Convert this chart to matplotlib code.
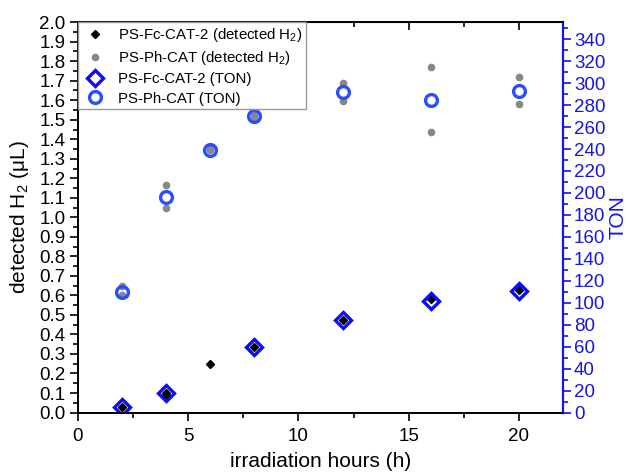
import matplotlib
matplotlib.use("Agg")
import matplotlib.pyplot as plt
from matplotlib.ticker import MultipleLocator
from matplotlib.lines import Line2D

plt.rcParams['font.family'] = ['Liberation Sans', 'DejaVu Sans']
plt.rcParams['mathtext.fontset'] = 'custom'
plt.rcParams['mathtext.rm'] = 'Liberation Sans'
plt.rcParams['mathtext.it'] = 'Liberation Sans:italic'

# detected H2 (uL), replicate runs
fc_h2_hours = [2, 4, 4, 6, 8, 12, 16, 20]
fc_h2 = [0.028, 0.10, 0.09, 0.25, 0.335, 0.475, 0.58, 0.63]
ph_h2_hours = [2, 2, 4, 4, 6, 6, 8, 8, 12, 12, 16, 16, 20, 20]
ph_h2 = [0.60, 0.65, 1.165, 1.05, 1.35, 1.345, 1.525, 1.515,
         1.69, 1.595, 1.77, 1.437, 1.718, 1.58]

# turnover numbers (mean)
fc_ton_hours = [2, 4, 8, 12, 16, 20]
fc_ton = [5, 18, 60, 84, 102, 111]
ph_ton_hours = [2, 4, 6, 8, 12, 16, 20]
ph_ton = [110, 196, 239, 270, 292, 285, 293]

blue_axis = '#1515e6'
blue_circ = '#2a4dff'
blue_diam = '#0a0aff'

fig = plt.figure(figsize=(6.29, 4.72), dpi=100)
ax = fig.add_axes([0.124, 0.126, 0.771, 0.827])
ax2 = ax.twinx()

ax.plot(fc_h2_hours, fc_h2, 'D', color='black', markersize=4, linestyle='none')
ax.plot(ph_h2_hours, ph_h2, 'o', color='#888888', markersize=4.5, linestyle='none')
ax2.plot(fc_ton_hours, fc_ton, 'D', mfc='none', mec=blue_diam, mew=2.4,
         markersize=8.5, linestyle='none')
ax2.plot(ph_ton_hours, ph_ton, 'o', mfc='none', mec=blue_circ, mew=2.4,
         markersize=8.5, linestyle='none')

ax.set_xlim(0, 22)
ax.set_ylim(0, 2.0)
ax2.set_ylim(0, 355.5)

ax.xaxis.set_major_locator(MultipleLocator(5))
ax.xaxis.set_minor_locator(MultipleLocator(2.5))
ax.yaxis.set_major_locator(MultipleLocator(0.1))
ax.yaxis.set_minor_locator(MultipleLocator(0.05))
ax2.yaxis.set_minor_locator(MultipleLocator(10))
ax2.set_yticks([t for t in range(0, 341, 20)])

ax.tick_params(which='major', direction='out', length=6, width=1.2, labelsize=13.5)
ax.tick_params(which='minor', direction='out', length=3.5, width=1.2)
ax.tick_params(axis='x', pad=5)
ax.tick_params(axis='y', pad=3)
ax2.tick_params(which='major', direction='out', length=6, width=1.2,
                colors=blue_axis, labelsize=13.5, pad=2)
ax2.tick_params(which='minor', direction='out', length=3.5, width=1.2,
                colors=blue_axis)

# inward ticks on the top edge
top = ax.secondary_xaxis('top')
top.xaxis.set_major_locator(MultipleLocator(5))
top.xaxis.set_minor_locator(MultipleLocator(2.5))
top.tick_params(which='major', direction='in', length=6, width=1.2, labeltop=False)
top.tick_params(which='minor', direction='in', length=3.5, width=1.2)

for a in (ax, ax2):
    for s in a.spines.values():
        s.set_linewidth(1.3)
ax2.spines['right'].set_color(blue_axis)
ax2.spines['right'].set_linewidth(1.6)

ax.set_xlabel('irradiation hours (h)', fontsize=15, labelpad=5)
ax.set_ylabel('detected H$_2$ (μL)', fontsize=15, labelpad=6)
ax2.set_ylabel('TON', fontsize=15, color=blue_axis, labelpad=2)

handles = [
    Line2D([], [], marker='D', color='black', markersize=4, linestyle='none'),
    Line2D([], [], marker='o', color='#888888', markersize=4.5, linestyle='none'),
    Line2D([], [], marker='D', mfc='none', mec=blue_diam, mew=2.4,
           markersize=8.5, linestyle='none'),
    Line2D([], [], marker='o', mfc='none', mec=blue_circ, mew=2.4,
           markersize=8.5, linestyle='none'),
]
labels = ['PS-Fc-CAT-2 (detected H$_2$)', 'PS-Ph-CAT (detected H$_2$)',
          'PS-Fc-CAT-2 (TON)', 'PS-Ph-CAT (TON)']
leg = ax2.legend(handles, labels, loc='upper left', fontsize=10.8,
                 frameon=True, fancybox=False, framealpha=1,
                 edgecolor='#999999', borderaxespad=0, handletextpad=0.6,
                 labelspacing=0.35, borderpad=0.25, handlelength=1.8)
leg.get_frame().set_linewidth(1.0)

fig.savefig('out.png', dpi=100)
